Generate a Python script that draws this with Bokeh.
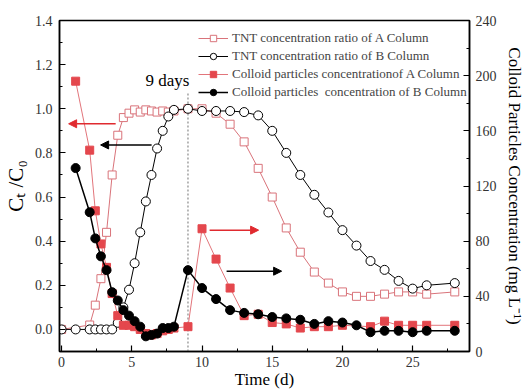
from bokeh.plotting import figure
from bokeh.models import (Range1d, LinearAxis, Legend, LegendItem, Arrow, NormalHead,
                          Label, FixedTicker, NumeralTickFormatter)
from bokeh.embed import file_html
from bokeh.resources import INLINE

# ---- data ----
tnt_a_t = [0, 2, 2.4, 2.8, 3.2, 3.6, 4.0, 4.4, 4.8, 5.2, 5.6, 6.0, 6.4, 6.8, 7.2, 7.6, 8.0,
           9, 10, 11, 12, 13, 14, 15, 16, 17, 18, 19, 20, 21, 22, 23, 24, 25, 26, 28]
tnt_a = [0.0, 0.02, 0.11, 0.23, 0.44, 0.70, 0.88, 0.96, 0.98, 0.995, 0.985, 0.995, 0.99, 0.985,
         0.99, 0.985, 0.99, 1.0, 1.0, 0.98, 0.93, 0.85, 0.73, 0.60, 0.46, 0.35, 0.26, 0.21, 0.17,
         0.15, 0.15, 0.16, 0.17, 0.17, 0.16, 0.17]

tnt_b_t = [0, 1, 2, 2.4, 2.8, 3.2, 3.6, 4.0, 4.4, 4.8, 5.2, 5.6, 6.0, 6.4, 6.8, 7.2, 7.6, 8.0,
           9, 10, 11, 12, 13, 14, 15, 16, 17, 18, 19, 20, 21, 22, 23, 24, 25, 26, 28]
tnt_b = [0.0, 0.0, 0.0, 0.0, 0.0, 0.0, 0.0, 0.03, 0.10, 0.18, 0.30, 0.44, 0.58, 0.70, 0.82, 0.90,
         0.965, 0.995, 1.0, 0.99, 0.99, 0.99, 0.985, 0.97, 0.90, 0.80, 0.70, 0.61, 0.53, 0.45,
         0.38, 0.31, 0.27, 0.22, 0.185, 0.20, 0.21]

col_a_t = [1, 2, 2.4, 2.8, 3.2, 3.6, 4.0, 4.4, 4.8, 5.2, 5.6, 6.0, 6.4, 6.8, 7.2, 7.6, 8.0,
           9, 10, 11, 12, 13, 14, 15, 16, 17, 18, 19, 20, 22, 23, 24, 25, 26, 28]
col_a = [196, 146, 102, 78, 61, 42, 26, 19, 19, 18, 16, 13, 12, 13, 15, 16, 17,
         18, 89, 67, 46, 26, 27, 21, 20, 17, 18, 18, 19, 18, 22, 19, 19, 19, 19]

col_b_t = [1, 2, 2.4, 2.8, 3.2, 3.6, 4.0, 4.4, 4.8, 5.2, 5.6, 6.0, 6.4, 6.8, 7.2, 7.6, 8.0,
           9, 10, 11, 12, 13, 14, 15, 16, 17, 18, 19, 20, 21, 22, 23, 24, 25, 26, 28]
col_b = [133, 101, 82, 69, 59, 43, 37, 30, 26, 22, 18, 11, 12, 13, 17, 17, 18,
         59, 46, 38, 30, 28, 27, 25, 24, 23, 20, 22, 21, 19, 14, 15, 15, 14, 15, 15]

labels = ["TNT concentration ratio of A Column",
          "TNT concentration ratio of B Column",
          "Colloid particles concentrationof A Column",
          "Colloid particles  concentration of B Column"]

x_ticks = [0, 5, 10, 15, 20, 25]
left_ticks = [0.0, 0.2, 0.4, 0.6, 0.8, 1.0, 1.2, 1.4]
right_ticks = [0, 40, 80, 120, 160, 200, 240]

FONT = "Liberation Serif"
RED = "#e4474d"
PINK = "#d9737a"

p = figure(frame_width=410, frame_height=331, output_backend="svg", toolbar_location=None,
           x_range=Range1d(-0.15, 29.05), y_range=Range1d(-0.1, 1.4),
           min_border_left=55, min_border_right=56, min_border_top=20, min_border_bottom=40)
p.extra_y_ranges = {"c": Range1d(0, 240)}
p.xgrid.visible = False
p.ygrid.visible = False
p.outline_line_color = "black"
p.outline_line_width = 1.5
p.background_fill_color = "white"
p.border_fill_color = "white"

def style_axis(ax, ticks, minor):
    ax.ticker = FixedTicker(ticks=ticks, minor_ticks=minor)
    ax.major_tick_in = 6
    ax.major_tick_out = 0
    ax.minor_tick_in = 3
    ax.minor_tick_out = 0
    ax.axis_line_width = 1.5
    ax.major_tick_line_width = 1.2
    ax.major_label_text_font = FONT
    ax.major_label_text_font_size = "14px"
    ax.major_label_text_color = "#333333"
    ax.axis_label_text_font = FONT
    ax.axis_label_text_font_style = "normal"
    ax.axis_label_text_color = "black"

xa = p.xaxis[0]
style_axis(xa, x_ticks, [2.5 + 5 * i for i in range(6)])
xa.axis_label = "Time (d)"
xa.axis_label_text_font_size = "17px"
xa.axis_label_standoff = 0
xa.major_label_standoff = 5

ya = p.yaxis[0]
style_axis(ya, left_ticks, [-0.1 + 0.2 * i for i in range(8)])
ya.axis_label = "C\u209c /C\u2080"
ya.axis_label_text_font_size = "21px"
ya.axis_label_standoff = 4
ya.major_label_standoff = 7
ya.formatter = NumeralTickFormatter(format="0.0")

ra = LinearAxis(y_range_name="c")
style_axis(ra, right_ticks, [20 + 40 * i for i in range(6)])
ra.axis_label = "Colloid Particles Concentration (mg L\u207b\u00b9)"
ra.axis_label_text_font_size = "17px"
ra.axis_label_standoff = 5
ra.major_label_standoff = 6
p.add_layout(ra, "right")

# vertical dotted line at 9 days
p.segment(x0=[9], y0=[-0.1], x1=[9], y1=[1.07], line_color="#888888",
          line_dash="2 2", line_width=1.2)

# series
la = p.line(tnt_a_t, tnt_a, line_color=PINK, line_width=1)
sa = p.scatter(tnt_a_t, tnt_a, marker="square", size=8, fill_color="white",
               line_color=PINK, line_width=1)
lb = p.line(tnt_b_t, tnt_b, line_color="black", line_width=1)
sb = p.scatter(tnt_b_t, tnt_b, marker="circle", size=9, fill_color="white",
               line_color="black", line_width=1)
lca = p.line(col_a_t, col_a, line_color="#e2757b", line_width=1, y_range_name="c")
sca = p.scatter(col_a_t, col_a, marker="square", size=8, fill_color=RED,
                line_color=RED, y_range_name="c")
lcb = p.line(col_b_t, col_b, line_color="black", line_width=1.5, y_range_name="c")
scb = p.scatter(col_b_t, col_b, marker="circle", size=9, fill_color="black",
                line_color="black", y_range_name="c")

# arrows
ARED = "#e02a2f"
for (xs, xe, yy, c) in [(3.85, 0.5, 0.932, ARED), (6.41, 2.78, 0.836, "black"),
                        (10.54, 14.03, 0.45, ARED), (11.75, 15.67, 0.264, "black")]:
    p.add_layout(Arrow(end=NormalHead(size=8, fill_color=c, line_color=c),
                       x_start=xs, y_start=yy, x_end=xe, y_end=yy,
                       line_color=c, line_width=1.5))

p.add_layout(Label(x=5.98, y=1.127, text="9 days", text_font=FONT,
                   text_font_size="17px", text_baseline="middle", text_color="black"))

legend = Legend(items=[LegendItem(label=labels[0], renderers=[la, sa]),
                       LegendItem(label=labels[1], renderers=[lb, sb]),
                       LegendItem(label=labels[2], renderers=[lca, sca]),
                       LegendItem(label=labels[3], renderers=[lcb, scb])],
                location=(139, 250), border_line_color=None, background_fill_alpha=0,
                label_text_font=FONT, label_text_font_size="13px",
                glyph_width=30, glyph_height=16, label_height=18, spacing=0,
                padding=0, margin=0, label_standoff=4)
p.add_layout(legend)

open("out.html", "w").write(file_html(p, INLINE))
